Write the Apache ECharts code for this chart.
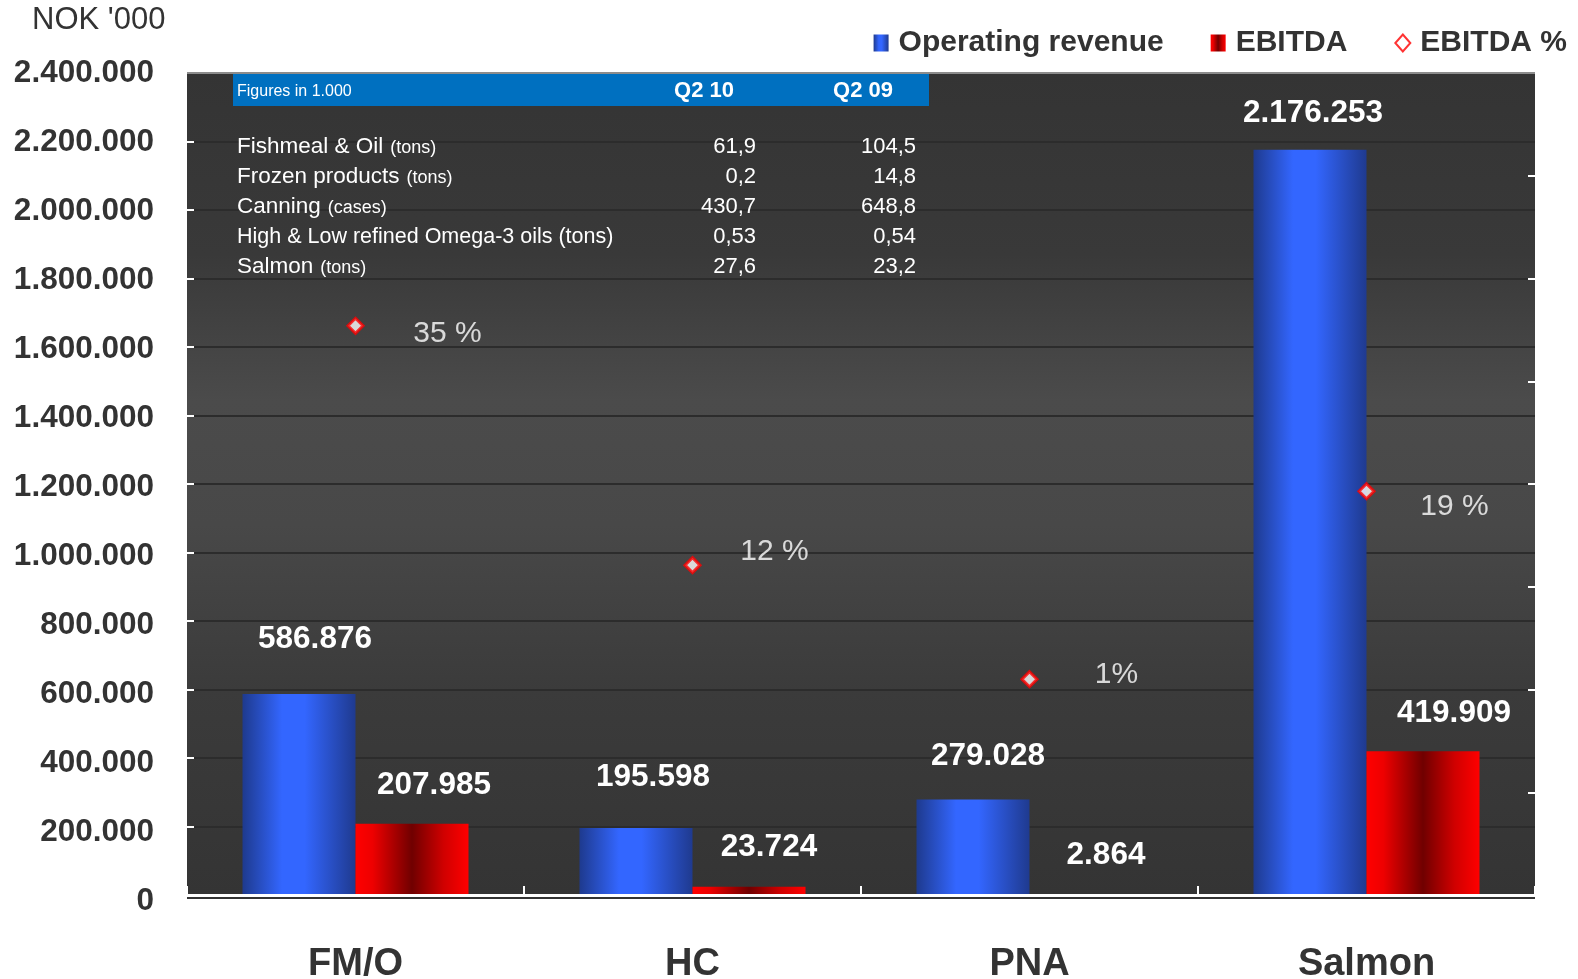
<!DOCTYPE html>
<html>
<head>
<meta charset="utf-8">
<script src="https://cdn.jsdelivr.net/npm/echarts@6/dist/echarts.min.js"></script>
<style>
  html, body { margin: 0; padding: 0; background: #fff; }
  #main { width: 1578px; height: 979px; }
</style>
</head>
<body>
<div id="main"></div>
<script>
  // data
  var categories = ['FM/O', 'HC', 'PNA', 'Salmon']
  var revenue = [586876, 195598, 279028, 2176253]
  var ebitda = [207985, 23724, 2864, 419909]
  var ebitdaPct = [35.4, 12.1, 1.0, 19.3]
  var pctLabels = ['35 %', '12 %', '1%', '19 %']

  // small table in the top left of the plot
  var tableHead = ['Figures in 1.000', 'Q2 10', 'Q2 09']
  var tableNames = ['Fishmeal & Oil', 'Frozen products', 'Canning', 'High & Low refined Omega-3 oils (tons)', 'Salmon']
  var tableUnits = ['(tons)', '(tons)', '(cases)', '', '(tons)']
  var tableQ210 = ['61,9', '0,2', '430,7', '0,53', '27,6']
  var tableQ209 = ['104,5', '14,8', '648,8', '0,54', '23,2']

  // label nudges (excel put them a bit off the bars)
  var revLabelOffset = [[16, -39], [17, -35], [15, -27], [3, -20]]
  var ebLabelOffset = [[22, -22], [20, -24], [20, -23], [31, -22]]
  var pctLabelOffset = [[92, 8], [82, -13], [87, -4], [88, 16]]

  var FONT = '"Liberation Sans", Arial, sans-serif'

  function fmt(n) {
    return String(n).replace(/\B(?=(\d{3})+(?!\d))/g, '.')
  }

  var blueGrad = new echarts.graphic.LinearGradient(0, 0, 1, 0, [
    { offset: 0, color: '#1e3a8e' },
    { offset: 0.35, color: '#3366ff' },
    { offset: 0.55, color: '#3366ff' },
    { offset: 1, color: '#1f3a8f' }
  ])
  var redGrad = new echarts.graphic.LinearGradient(0, 0, 1, 0, [
    { offset: 0, color: '#ff0000' },
    { offset: 0.15, color: '#ee0000' },
    { offset: 0.5, color: '#700000' },
    { offset: 0.78, color: '#d00000' },
    { offset: 1, color: '#ff0000' }
  ])
  var plotGrad = new echarts.graphic.LinearGradient(0, 0, 0, 1, [
    { offset: 0, color: '#343434' },
    { offset: 0.22, color: '#393939' },
    { offset: 0.4, color: '#4b4b4b' },
    { offset: 0.55, color: '#484848' },
    { offset: 0.75, color: '#3b3b3b' },
    { offset: 1, color: '#343434' }
  ])

  var revData = revenue.map(function (v, i) {
    return { value: v, label: { offset: revLabelOffset[i] } }
  })
  var ebData = ebitda.map(function (v, i) {
    return { value: v, label: { offset: ebLabelOffset[i] } }
  })
  var pctData = ebitdaPct.map(function (v, i) {
    return { value: v, label: { offset: pctLabelOffset[i], formatter: pctLabels[i] } }
  })

  // split line colours: dark everywhere, gray at the top
  var splitColors = []
  for (var k = 0; k < 12; k++) splitColors.push('#2c2c2c')
  splitColors.push('#8c8c8c')

  // y labels drift a little downwards towards 0 in the original
  var yRich = {}
  for (var j = 0; j <= 12; j++) {
    yRich['s' + j] = {
      color: '#333', fontSize: 31.5, fontWeight: 'bold', fontFamily: FONT,
      padding: [Math.round((12 - j) * 1), 0, 0, 0]
    }
  }

  // table graphics
  var tableX = 233, tableRight = 929
  var graphics = [
    { type: 'text', left: 32, top: 5, style: { text: "NOK '000", fill: '#333', font: '31px ' + FONT } },
    { type: 'rect', shape: { x: 187, y: 72, width: 1348, height: 2 }, style: { fill: '#8c8c8c' }, z: 9 },
    { type: 'rect', shape: { x: 187, y: 897, width: 1348, height: 2 }, style: { fill: '#333' }, z: 9 },
    { type: 'rect', shape: { x: tableX, y: 74, width: tableRight - tableX, height: 32 }, style: { fill: '#0070c0' }, z: 10 },
    { type: 'text', z: 11, style: { text: tableHead[0], x: 237, y: 92, fill: '#fff', font: '16px ' + FONT, textVerticalAlign: 'middle' } },
    { type: 'text', z: 11, style: { text: tableHead[1], x: 704, y: 91, fill: '#fff', font: 'bold 22px ' + FONT, textAlign: 'center', textVerticalAlign: 'middle' } },
    { type: 'text', z: 11, style: { text: tableHead[2], x: 863, y: 91, fill: '#fff', font: 'bold 22px ' + FONT, textAlign: 'center', textVerticalAlign: 'middle' } }
  ]
  tableNames.forEach(function (name, i) {
    var y = 147 + i * 30
    var txt = '{a|' + name + '}' + (tableUnits[i] ? '{b|' + tableUnits[i] + '}' : '')
    graphics.push({
      type: 'text', z: 11,
      style: {
        text: txt, x: 237, y: y, textVerticalAlign: 'middle',
        rich: {
          a: { fill: '#fff', color: '#fff', fontSize: tableUnits[i] ? 22.5 : 21.5, fontFamily: FONT },
          b: { fill: '#fff', color: '#fff', fontSize: 18, fontFamily: FONT, padding: [3, 0, 0, 7] }
        }
      }
    })
    graphics.push({ type: 'text', z: 11, style: { text: tableQ210[i], x: 756, y: y, fill: '#fff', font: '22px ' + FONT, textAlign: 'right', textVerticalAlign: 'middle' } })
    graphics.push({ type: 'text', z: 11, style: { text: tableQ209[i], x: 916, y: y, fill: '#fff', font: '22px ' + FONT, textAlign: 'right', textVerticalAlign: 'middle' } })
  })

  var myChart = echarts.init(document.getElementById('main'))
  var option = {
    backgroundColor: '#fff',
    animation: false,
    textStyle: { fontFamily: FONT },
    grid: {
      left: 187, right: 43, top: 73, bottom: 84,
      containLabel: false,
      outerBoundsMode: 'none',
      show: true, borderWidth: 0, backgroundColor: plotGrad
    },
    legend: {
      right: 6, top: 23,
      itemWidth: 15, itemHeight: 17, itemGap: 47,
      textStyle: { color: '#333', fontSize: 30, fontWeight: 'bold', fontFamily: FONT, padding: [4, 0, 0, 5] },
      data: [
        { name: 'Operating revenue', icon: 'rect' },
        { name: 'EBITDA', icon: 'rect' },
        { name: 'EBITDA %' }
      ]
    },
    xAxis: [{
      type: 'category',
      data: categories,
      axisLine: { lineStyle: { color: '#fff', width: 3 } },
      axisTick: { show: true, inside: true, length: 9, lineStyle: { color: '#fff', width: 2 } },
      axisLabel: { color: '#333', fontSize: 38, fontWeight: 'bold', margin: 51, fontFamily: FONT },
      splitLine: { show: false },
      z: 5
    }],
    yAxis: [{
      type: 'value',
      min: 0, max: 2400000, interval: 200000,
      axisLine: { show: false },
      axisTick: { show: true, inside: true, length: 7, lineStyle: { color: '#fff', width: 2 } },
      axisLabel: {
        color: '#333', fontSize: 31.5, fontWeight: 'bold', margin: 33, fontFamily: FONT,
        formatter: function (v) {
          var idx = Math.round(v / 200000)
          return '{s' + idx + '|' + fmt(v) + '}'
        },
        rich: yRich
      },
      splitLine: { show: true, lineStyle: { color: splitColors, width: 2 } }
    }, {
      type: 'value',
      min: -20, max: 60, interval: 10,
      position: 'right',
      axisLine: { show: false },
      axisTick: { show: true, inside: true, length: 7, lineStyle: { color: '#fff', width: 2 } },
      axisLabel: { show: false },
      splitLine: { show: false }
    }],
    series: [{
      name: 'Operating revenue',
      type: 'bar',
      barWidth: 113,
      barGap: 0,
      itemStyle: { color: blueGrad },
      label: {
        show: true, position: 'top', distance: 0,
        color: '#fff', fontSize: 31.5, fontWeight: 'bold', fontFamily: FONT,
        formatter: function (p) { return fmt(p.value) }
      },
      data: revData
    }, {
      name: 'EBITDA',
      type: 'bar',
      barWidth: 113,
      barGap: 0,
      itemStyle: { color: redGrad },
      label: {
        show: true, position: 'top', distance: 0,
        color: '#fff', fontSize: 31.5, fontWeight: 'bold', fontFamily: FONT,
        formatter: function (p) { return fmt(p.value) }
      },
      data: ebData
    }, {
      name: 'EBITDA %',
      type: 'scatter',
      yAxisIndex: 1,
      symbol: 'diamond',
      symbolSize: 15,
      itemStyle: { color: '#fff', borderColor: '#ff0000', borderWidth: 3 },
      label: {
        show: true, position: 'inside',
        color: '#fff', fontSize: 30, fontFamily: FONT,
        textBorderWidth: 0
      },
      data: pctData,
      z: 6
    }],
    graphic: graphics
  }
  myChart.setOption(option)
</script>
</body>
</html>
